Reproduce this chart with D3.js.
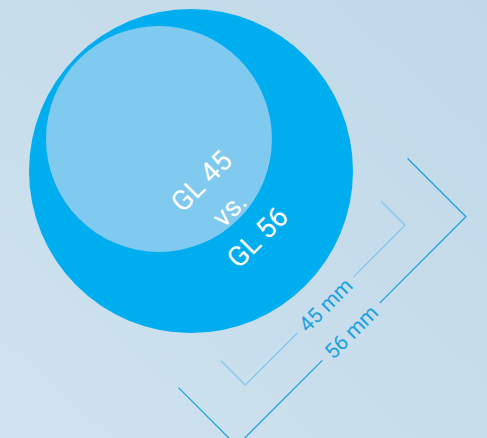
<!DOCTYPE html>
<html>
<head>
<meta charset="utf-8">
<script src="https://cdn.jsdelivr.net/npm/d3@7"></script>
<style>
  html, body { margin: 0; padding: 0; }
  body { width: 487px; height: 438px; overflow: hidden; }
  svg { display: block; }
</style>
</head>
<body>
<svg id="chart" width="487" height="438"></svg>
<script>
// ---- data ----
const sizesMM = [56, 45];                 // outer (GL 56), inner (GL 45)
const circleLabels = ["GL 45", "vs.", "GL 56"];
const dimLabels = ["56 mm", "45 mm"];

// ---- layout ----
const W = 487, H = 438;
const cx = 191, cy = 171;
const svg = d3.select("#chart");

const defs = svg.append("defs");
const grad = defs.append("linearGradient").attr("id", "bg")
  .attr("x1", "0%").attr("y1", "100%").attr("x2", "100%").attr("y2", "0%");
grad.append("stop").attr("offset", "0%").attr("stop-color", "#cfe2ef");
grad.append("stop").attr("offset", "100%").attr("stop-color", "#c0d8e8");
svg.append("rect").attr("width", W).attr("height", H).attr("fill", "url(#bg)");

const r = d3.scaleLinear().domain([45, 56]).range([113, 162]);
const colors = d3.scaleOrdinal().domain(sizesMM).range(["#00aeef", "#80c9ef"]);
const lineColors = d3.scaleOrdinal().domain(sizesMM).range(["#1ea3e0", "#86c8ec"]);

const g = svg.append("g").attr("transform", `translate(${cx},${cy}) rotate(-45)`);

// circles: inner circle offset along diagonal so they nearly touch at top-left
const offset = d => -(r(sizesMM[0]) - r(d)) + 3.7;
g.selectAll("circle.c").data(sizesMM).join("circle")
  .attr("class", "c")
  .attr("cx", 0)
  .attr("cy", (d, i) => i === 0 ? 0 : offset(d))
  .attr("r", d => r(d))
  .attr("fill", d => colors(d));

// circle labels
const labelFont = 28, lineStep = 39.6, firstBase = 24.2;
g.selectAll("text.lbl").data(circleLabels).join("text")
  .attr("class", "lbl")
  .attr("x", 0)
  .attr("y", (d, i) => firstBase + i * lineStep)
  .attr("text-anchor", "middle")
  .attr("fill", "#ffffff")
  .style("font-family", "Roboto, 'DejaVu Sans', sans-serif")
  .style("font-size", labelFont + "px")
  .text(d => d);

// dimension brackets
const dims = [
  { mm: sizesMM[0], lineY: 226.8, tickY: 144.3, gap: [-41, 40], label: dimLabels[0] },
  { mm: sizesMM[1], lineY: 189.7, tickY: 155.4, gap: [-39, 40], label: dimLabels[1] }
];
dims.forEach(d => {
  const half = r(d.mm);
  const line = d3.line();
  const left = [[-half, d.tickY], [-half, d.lineY], [d.gap[0], d.lineY]];
  const right = [[d.gap[1], d.lineY], [half, d.lineY], [half, d.tickY]];
  [left, right].forEach(pts => {
    g.append("path").attr("d", line(pts))
      .attr("fill", "none")
      .attr("stroke", lineColors(d.mm))
      .attr("stroke-width", 1.3);
  });
  g.append("text")
    .attr("x", (d.gap[0] + d.gap[1]) / 2)
    .attr("y", d.lineY)
    .attr("dy", "0.36em")
    .attr("text-anchor", "middle")
    .attr("fill", "#1ba2de")
    .style("font-family", "Roboto, 'DejaVu Sans', sans-serif")
    .style("font-size", "21px")
    .text(d.label);
});
</script>
</body>
</html>
